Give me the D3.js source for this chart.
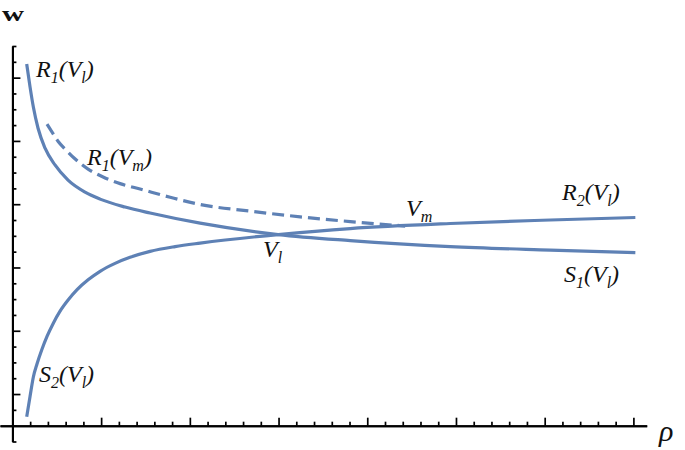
<!DOCTYPE html>
<html><head><meta charset="utf-8">
<script src="https://cdn.jsdelivr.net/npm/d3@7"></script>
<style>body{margin:0;background:#fff}svg{display:block}</style>
</head><body>
<svg id="c" width="685" height="450"></svg>
<script>
// ---- data (ρ, w) ----
const r1VlRho = [0.161,0.199,0.236,0.289,0.368,0.480,0.627,0.819,0.988,1.270,1.552,2.116,2.996,3.808,4.936,6.064,7.022];
const r1VlW   = [1.243,1.170,1.107,1.040,0.977,0.924,0.876,0.838,0.816,0.791,0.772,0.740,0.704,0.685,0.666,0.655,0.647];
const s2VlRho = [0.161,0.199,0.236,0.277,0.330,0.390,0.461,0.537,0.630,0.729,0.853,0.988,1.157,1.326,1.552,1.834,2.116,2.996,3.808,4.936,6.064,7.022];
const s2VlW   = [0.128,0.193,0.254,0.295,0.339,0.382,0.424,0.462,0.498,0.530,0.561,0.588,0.613,0.632,0.651,0.666,0.677,0.704,0.723,0.739,0.750,0.758];
const r1VmRho = [0.390,0.447,0.514,0.605,0.695,0.853,1.022,1.214,1.439,1.778,2.116,2.680,3.244,3.808,4.428];
const r1VmW   = [1.053,1.028,0.999,0.971,0.946,0.911,0.886,0.865,0.848,0.822,0.799,0.778,0.760,0.745,0.731];
const xMajorTicks = [1,2,3,4,5,6,7];
const xMinorTicks = d3.range(1,36).map(i=>+(i*0.2).toFixed(2)).filter(v=>Math.abs(v-Math.round(v))>1e-6);
const yMajorTicks = [0.2,0.4,0.6,0.8,1.0,1.2];
const yMinorTicks = d3.range(1,27).map(i=>+(i*0.05).toFixed(2)).filter(v=>Math.abs(v*5-Math.round(v*5))>1e-6);

const svg = d3.select("#c");
const x = d3.scaleLinear().domain([-0.14,7.15]).range([0,646.7]);
const y = d3.scaleLinear().domain([0.05,1.3]).range([441.5,46]);
const col = "#5E81B5";

// axes
const x0 = x(0), y0 = y(0.1);
const gx = svg.append("g").attr("transform",`translate(0,${y0})`);
gx.call(d3.axisTop(x).tickValues(xMinorTicks).tickSize(4).tickSizeOuter(0).tickFormat(""));
gx.append("g").call(d3.axisTop(x).tickValues(xMajorTicks).tickSize(8).tickSizeOuter(0).tickFormat(""));
const gy = svg.append("g").attr("transform",`translate(${x0},0)`);
gy.call(d3.axisRight(y).tickValues(yMinorTicks).tickSize(4).tickSizeOuter(0).tickFormat(""));
gy.append("g").call(d3.axisRight(y).tickValues(yMajorTicks).tickSize(8).tickSizeOuter(0).tickFormat(""));
svg.selectAll(".domain").attr("stroke","#000").attr("stroke-width",2);
svg.selectAll(".tick line").attr("stroke","#000").attr("stroke-width",1.7);

// curves
const line = d3.line().x(d=>x(d[0])).y(d=>y(d[1])).curve(d3.curveMonotoneX);
function draw(rho,w,dash){
  svg.append("path").datum(rho.map((r,i)=>[r,w[i]])).attr("d",line)
    .attr("fill","none").attr("stroke",col).attr("stroke-width",3.2)
    .attr("stroke-dasharray",dash||null);
}
draw(r1VlRho,r1VlW);
draw(s2VlRho,s2VlW);
draw(r1VmRho,r1VmW,"12,6");

// labels
const FS = 24, SFS = 16, SH = 5.5;
function label(px,py,parts){
  const t = svg.append("text").attr("x",px).attr("y",py)
    .attr("font-family","'Liberation Serif','Times New Roman',serif")
    .attr("font-style","italic").attr("font-size",FS).attr("fill","#111");
  let shifted=false;
  parts.forEach(p=>{
    const sub = p.startsWith("_");
    const s = t.append("tspan").text(sub?p.slice(1):p);
    if(sub){ s.attr("font-size",SFS).attr("dy",shifted?0:SH); shifted=true; }
    else { if(shifted){ s.attr("dy",-SH); shifted=false; } }
  });
}
label(36,77,["R","_1","(V","_l",")"]);
label(87,165,["R","_1","(V","_m",")"]);
label(406,216,["V","_m"]);
label(263,257,["V","_l"]);
label(562,200,["R","_2","(V","_l",")"]);
label(564,282,["S","_1","(V","_l",")"]);
label(39,382,["S","_2","(V","_l",")"]);

svg.append("text").attr("x",2).attr("y",21).text("w")
  .attr("font-family","'Liberation Serif',serif").attr("font-weight","bold").attr("font-size",22)
  .attr("textLength",22).attr("lengthAdjust","spacingAndGlyphs").attr("fill","#111");
svg.append("text").attr("x",659).attr("y",441).text("ρ")
  .attr("font-family","'Liberation Serif',serif").attr("font-style","italic").attr("font-size",30).attr("fill","#111");
</script>
</body></html>
